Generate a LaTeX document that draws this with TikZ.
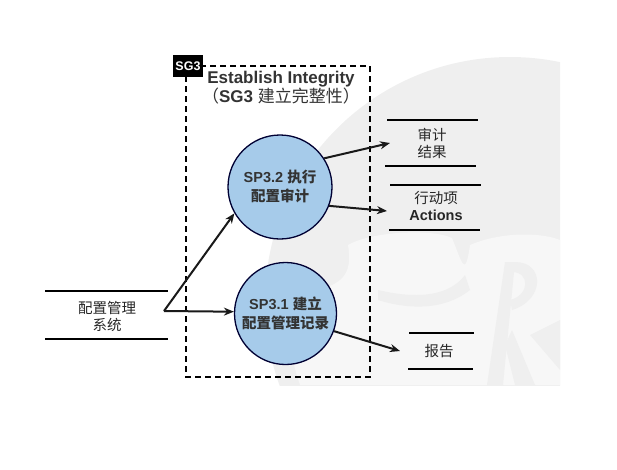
\documentclass[tikz,border=0pt]{standalone}
\usepackage{fontspec}
\usetikzlibrary{arrows.meta}
\setmainfont{Liberation Sans}
\newfontfamily\cjk{Noto Sans CJK SC}
\newcommand{\cn}[1]{{\cjk #1}}
\definecolor{procBlue}{HTML}{A6CBEA}
\definecolor{markGray}{HTML}{EFEFEF}
\definecolor{markLight}{HTML}{F7F7F7}
\begin{document}
\begin{tikzpicture}
[x=1pt,y=-1pt,
  lineDecorate/.style={-{Stealth[length=10pt,width=8pt]},line width=2pt,black!90},%
  storeLine/.style={line width=1.8pt,black},
  processDecorate/.style={shape=circle,draw=black!80!blue,line width=1.3pt,fill=procBlue,
    inner sep=0pt,align=center,font=\fontsize{14.5}{19}\selectfont\bfseries,text=black!80},
  storeText/.style={align=center,font=\fontsize{14.5}{17}\selectfont,text=black!85}]
\useasboundingbox (0,0) rectangle (617,469);
%% watermark
\begin{scope}
  \clip (240,40) rectangle (560,385);
  \fill[markGray] (510,302) circle (245);
  \fill[markLight] (348,245) .. controls (370,232) and (430,228) .. (452,238)
    .. controls (462,262) and (465,280) .. (470,245) .. controls (500,232) and (540,232) .. (560,240)
    -- (560,385) -- (300,385) .. controls (285,340) and (285,310) .. (305,295)
    .. controls (330,285) and (355,285) .. (348,245);
  \fill[markGray] (505,262) -- (515,262) -- (503,385) -- (487,385) -- cycle;
  \fill[markGray] (515,262) .. controls (545,262) and (545,300) .. (512,310) -- (510,300)
    .. controls (530,295) and (530,272) .. (512,272) -- cycle;
  \fill[markGray] (378,290) .. controls (420,300) and (450,295) .. (465,275) -- (470,290)
    .. controls (445,310) and (410,310) .. (378,300) -- cycle;
  \fill[markGray] (512,330) -- (535,385) -- (515,385) -- (505,345) -- cycle;
  \fill[markGray] (560,320) -- (530,335) -- (560,370) -- cycle;
\end{scope}
%% goal box
\draw[dashed,line width=1.4pt,dash pattern=on 6pt off 4pt] (186,66) rectangle (370,377);
\node (sgTag) at (188,66) [fill=black,text=white,minimum width=30pt,minimum height=22pt,inner sep=0pt,
  font=\fontsize{12.5}{12.5}\selectfont\bfseries] {SG3};
\node (sgTitle) at (281,87.5) [align=center,text=black!80,font=\fontsize{17}{16.5}\selectfont\bfseries]
  {Establish Integrity\\ \mdseries\cn{（}\bfseries SG3 \mdseries\cn{建立完整性）}};
%% processes
\node (sp32) at (280,187) [processDecorate,minimum size=104pt] {SP3.2 \cn{执行}\\\cn{配置审计}};
\node (sp31) at (285.5,313.5) [processDecorate,minimum size=102pt] {SP3.1 \cn{建立}\\\cn{配置管理记录}};
%% stores
\foreach \xa/\xb/\y in {
  45/168/291, 45/168/339,
  387/478/120, 385/476/166,
  390/481/185, 389/480/230,
  409/474/333, 408/473/369}
{
  \draw[storeLine] (\xa,\y) -- (\xb,\y);
}
\node (cmSystem) at (107,316) [storeText] {\cn{配置管理}\\\cn{系统}};
\node (auditResult) at (432,143) [storeText] {\cn{审计}\\\cn{结果}};
\node (actionItem) at (436,206) [storeText] {\cn{行动项}\\\textbf{Actions}};
\node (report) at (439,351) [storeText] {\cn{报告}};
%% edges
\coordinate (cmOut) at (164,311);
\coordinate (auditIn) at (390,143);
\coordinate (actionIn) at (387,211);
\coordinate (reportIn) at (400,351);
\path
\foreach \startnode/\endnode in {
  cmOut/sp32.210, cmOut/sp31.178, sp32.33/auditIn, sp32.-21/actionIn, sp31.-20/reportIn}
{
  (\startnode) edge[lineDecorate] node {} (\endnode)
};
\end{tikzpicture}
\end{document}
